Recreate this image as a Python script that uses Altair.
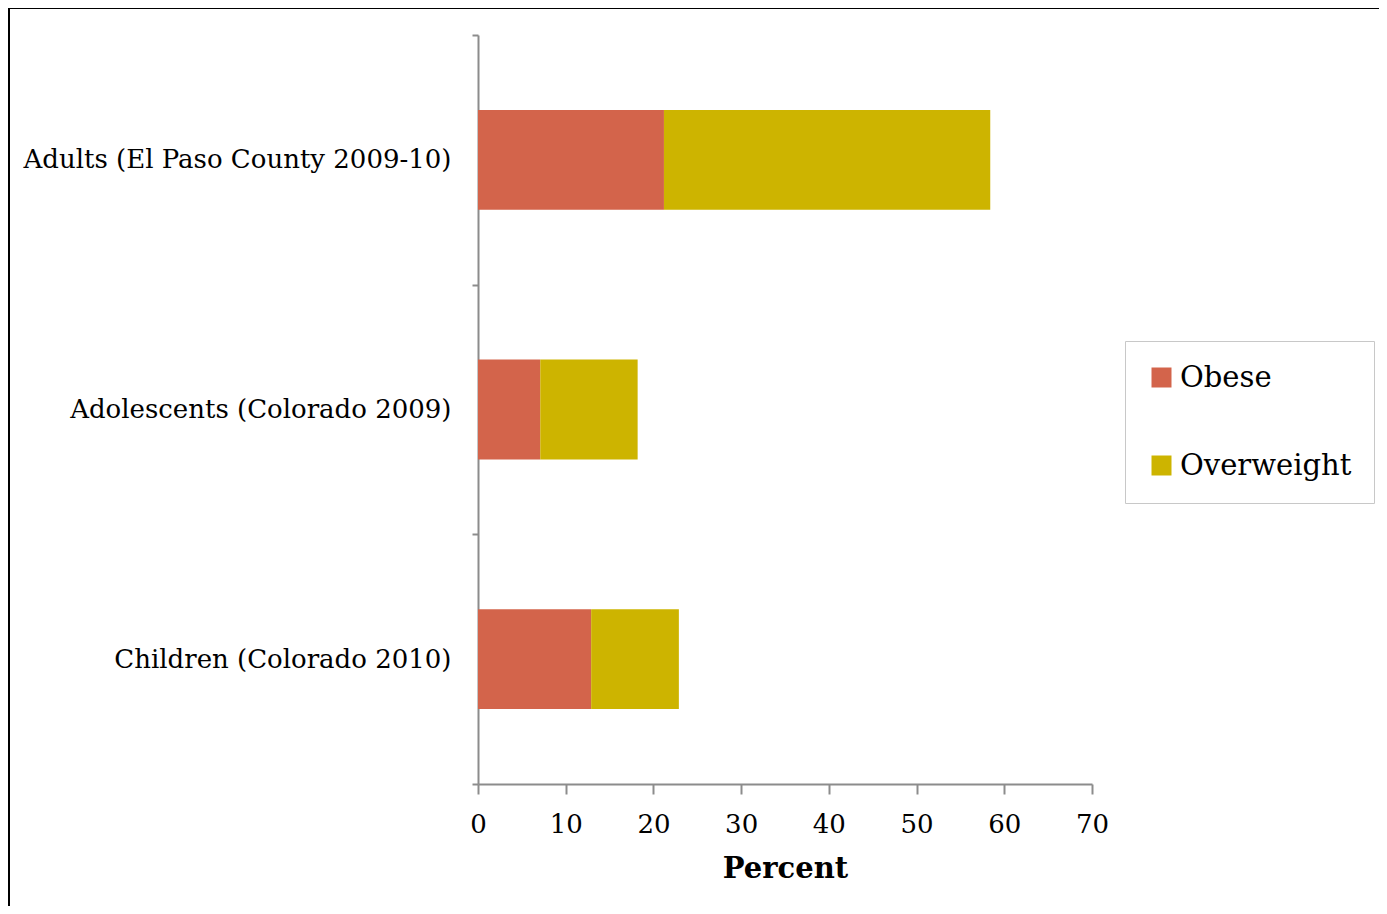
import altair as alt
import pandas as pd

categories = ["Adults (El Paso County 2009-10)", "Adolescents (Colorado 2009)", "Children (Colorado 2010)"]
obese = [21.2, 7.1, 12.9]
overweight = [37.2, 11.1, 10.0]
series = ["Obese", "Overweight"]
colors = ["#D3644B", "#CDB400"]
x_ticks = [0, 10, 20, 30, 40, 50, 60, 70]

rows = []
for c, o, w in zip(categories, obese, overweight):
    rows.append({"group": c, "kind": "Obese", "value": o, "ord": 0})
    rows.append({"group": c, "kind": "Overweight", "value": w, "ord": 1})
df = pd.DataFrame(rows)

FONT = "DejaVu Serif"
AX = "#8c8c8c"

bars = alt.Chart(df).mark_bar(height=alt.RelativeBandSize(0.4)).encode(
    y=alt.Y("group:N", sort=categories, title=None,
            scale=alt.Scale(paddingInner=0, paddingOuter=0),
            axis=alt.Axis(tickBand="extent", tickSize=6, labelPadding=21,
                          labelFontSize=26, labelFont=FONT, labelColor="black",
                          domainColor=AX, tickColor=AX, domainWidth=2, tickWidth=2,
                          labelLimit=600)),
    x=alt.X("value:Q", stack="zero", title="Percent",
            scale=alt.Scale(domain=[0, 70], nice=False),
            axis=alt.Axis(values=x_ticks, tickSize=10, labelPadding=17,
                          labelFlush=False, labelOverlap=False,
                          labelFontSize=26, labelFont=FONT, labelColor="black",
                          titleFont=FONT, titleFontSize=29, titleFontWeight="bold",
                          titleColor="black", titlePadding=17,
                          domainColor=AX, tickColor=AX, domainWidth=2, tickWidth=2,
                          grid=False)),
    color=alt.Color("kind:N", scale=alt.Scale(domain=series, range=colors),
                    legend=alt.Legend(title=None, orient="none", legendX=647, legendY=306,
                                      symbolType="square", symbolSize=400,
                                      symbolStrokeWidth=0, labelFont=FONT,
                                      labelFontSize=29, labelColor="black",
                                      labelOffset=4, rowPadding=58, padding=22,
                                      labelLimit=400,
                                      strokeColor="#c8c8c8", fillColor="white")),
    order=alt.Order("ord:Q"),
)

frame = alt.Chart(alt.Data(values=[{}])).mark_rect(
    fill=None, stroke="black", strokeWidth=2
).encode(x=alt.value(-469), x2=alt.value(3000), y=alt.value(-27), y2=alt.value(3000))

chart = alt.layer(frame, bars).properties(
    width=614, height=749,
    autosize=alt.AutoSizeParams(type="none"),
    padding={"left": 470, "top": 27, "right": 287, "bottom": 122},
).configure_view(stroke=None)

chart.save("out.html", embed_options={"renderer": "svg", "actions": False})
